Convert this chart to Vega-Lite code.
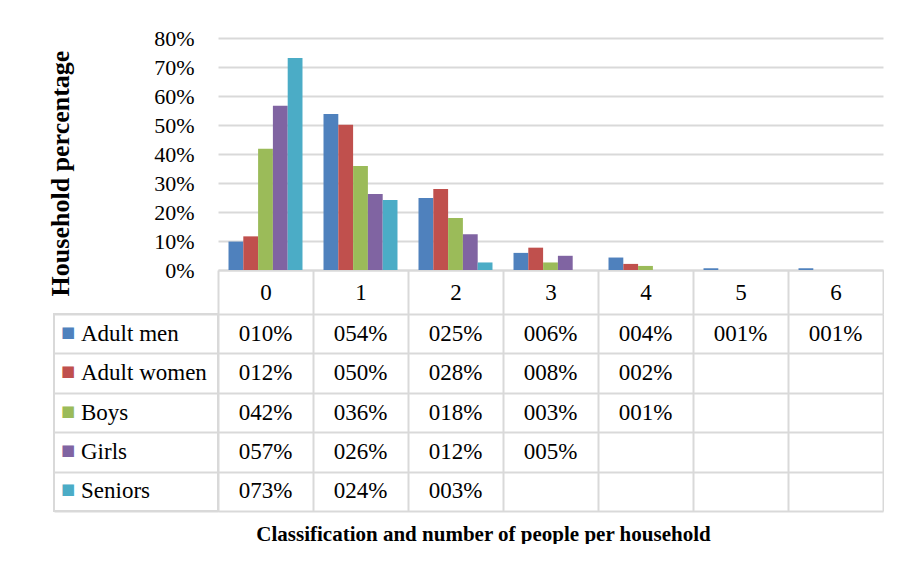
{
  "$schema": "https://vega.github.io/schema/vega-lite/v6.json",
  "autosize": {"type": "pad"},
  "padding": {"left": 47, "top": 27, "right": 0, "bottom": 0},
  "config": {
    "font": "Liberation Serif",
    "view": {"stroke": null},
    "axis": {"labelFont": "Liberation Serif", "titleFont": "Liberation Serif"},
    "text": {"font": "Liberation Serif"}
  },
  "datasets": {
    "households": [
      {"series": "Adult men", "n": "0", "value": 0.098},
      {"series": "Adult men", "n": "1", "value": 0.538},
      {"series": "Adult men", "n": "2", "value": 0.248},
      {"series": "Adult men", "n": "3", "value": 0.059},
      {"series": "Adult men", "n": "4", "value": 0.043},
      {"series": "Adult men", "n": "5", "value": 0.006},
      {"series": "Adult men", "n": "6", "value": 0.006},
      {"series": "Adult women", "n": "0", "value": 0.116},
      {"series": "Adult women", "n": "1", "value": 0.501},
      {"series": "Adult women", "n": "2", "value": 0.279},
      {"series": "Adult women", "n": "3", "value": 0.077},
      {"series": "Adult women", "n": "4", "value": 0.021},
      {"series": "Boys", "n": "0", "value": 0.418},
      {"series": "Boys", "n": "1", "value": 0.359},
      {"series": "Boys", "n": "2", "value": 0.179},
      {"series": "Boys", "n": "3", "value": 0.026},
      {"series": "Boys", "n": "4", "value": 0.014},
      {"series": "Girls", "n": "0", "value": 0.566},
      {"series": "Girls", "n": "1", "value": 0.262},
      {"series": "Girls", "n": "2", "value": 0.123},
      {"series": "Girls", "n": "3", "value": 0.049},
      {"series": "Seniors", "n": "0", "value": 0.731},
      {"series": "Seniors", "n": "1", "value": 0.241},
      {"series": "Seniors", "n": "2", "value": 0.026}
    ]
  },
  "columns": 2,
  "spacing": {"row": 44, "column": 0},
  "bounds": "flush",
  "concat": [
    {
      "width": 164,
      "height": 232,
      "data": {"values": []},
      "mark": "point"
    },
    {
      "width": 665,
      "height": 232,
      "data": {"name": "households"},
      "mark": {"type": "bar"},
      "encoding": {
        "x": {
          "field": "n",
          "type": "nominal",
          "scale": {"domain": ["0", "1", "2", "3", "4", "5", "6"], "paddingInner": 0, "paddingOuter": 0},
          "axis": {
            "title": null,
            "labelAngle": 0,
            "tickBand": "extent",
            "tickSize": 44,
            "tickColor": "#d9d9d9",
            "tickWidth": 2,
            "domainColor": "#d9d9d9",
            "domainWidth": 2,
            "labelFont": "Liberation Serif",
            "labelFontSize": 23,
            "labelColor": "#000000",
            "labelBaseline": "middle",
            "labelPadding": -22,
            "grid": false
          }
        },
        "xOffset": {
          "field": "series",
          "type": "nominal",
          "scale": {"domain": ["Adult men", "Adult women", "Boys", "Girls", "Seniors"], "paddingInner": 0, "paddingOuter": 0.71}
        },
        "y": {
          "field": "value",
          "type": "quantitative",
          "scale": {"domain": [0, 0.8]},
          "axis": {
            "title": "Household percentage",
            "values": [0, 0.1, 0.2, 0.3, 0.4, 0.5, 0.6, 0.7, 0.8],
            "format": ".0%",
            "labelFont": "Liberation Serif",
            "labelFontSize": 22,
            "labelColor": "#000000",
            "labelPadding": 24,
            "ticks": false,
            "domain": false,
            "gridColor": "#d9d9d9",
            "gridWidth": 2,
            "titleFont": "Liberation Serif",
            "titleFontSize": 26,
            "titleFontWeight": "bold",
            "titleColor": "#000000",
            "titlePadding": 80,
            "titleY": 135
          }
        },
        "color": {
          "field": "series",
          "type": "nominal",
          "scale": {"domain": ["Adult men", "Adult women", "Boys", "Girls", "Seniors"], "range": ["#4f81bd", "#c0504d", "#9bbb59", "#8064a2", "#4bacc6"]},
          "legend": null
        }
      }
    },
    {
      "width": 164,
      "height": 197,
      "data": {"name": "households"},
      "transform": [{"filter": "datum.n == '0'"}],
      "view": {"stroke": "#d9d9d9", "strokeWidth": 2},
      "encoding": {
        "y": {
          "field": "series",
          "type": "nominal",
          "scale": {"domain": ["Adult men", "Adult women", "Boys", "Girls", "Seniors"], "paddingInner": 0, "paddingOuter": 0},
          "axis": {"title": null, "labels": false, "ticks": false, "domain": false, "grid": true, "tickBand": "extent", "gridColor": "#d9d9d9", "gridWidth": 2}
        }
      },
      "layer": [
        {
          "mark": {"type": "text", "text": "■", "font": "DejaVu Sans", "fontSize": 15, "dx": -68, "dy": -2},
          "encoding": {
            "color": {
              "field": "series",
              "type": "nominal",
              "scale": {"domain": ["Adult men", "Adult women", "Boys", "Girls", "Seniors"], "range": ["#4f81bd", "#c0504d", "#9bbb59", "#8064a2", "#4bacc6"]},
              "legend": null
            }
          }
        },
        {
          "mark": {"type": "text", "align": "left", "dx": -55, "font": "Liberation Serif", "fontSize": 23, "color": "#000000"},
          "encoding": {"text": {"field": "series", "type": "nominal"}}
        }
      ]
    },
    {
      "width": 665,
      "height": 197,
      "data": {"name": "households"},
      "mark": {"type": "text", "font": "Liberation Serif", "fontSize": 23, "color": "#000000"},
      "encoding": {
        "x": {
          "field": "n",
          "type": "nominal",
          "scale": {"domain": ["0", "1", "2", "3", "4", "5", "6"], "paddingInner": 0, "paddingOuter": 0},
          "axis": {
            "title": "Classification and number of people per household",
            "titleFont": "Liberation Serif",
            "titleFontSize": 21,
            "titleFontWeight": "bold",
            "titleColor": "#000000",
            "titlePadding": 12,
            "titleX": 265,
            "labels": false,
            "ticks": false,
            "domain": false,
            "grid": true,
            "tickBand": "extent",
            "gridColor": "#d9d9d9",
            "gridWidth": 2
          }
        },
        "y": {
          "field": "series",
          "type": "nominal",
          "scale": {"domain": ["Adult men", "Adult women", "Boys", "Girls", "Seniors"], "paddingInner": 0, "paddingOuter": 0},
          "axis": {"title": null, "labels": false, "ticks": false, "domain": false, "grid": true, "tickBand": "extent", "gridColor": "#d9d9d9", "gridWidth": 2}
        },
        "text": {"field": "value", "type": "quantitative", "format": "04.0%"}
      }
    }
  ]
}
